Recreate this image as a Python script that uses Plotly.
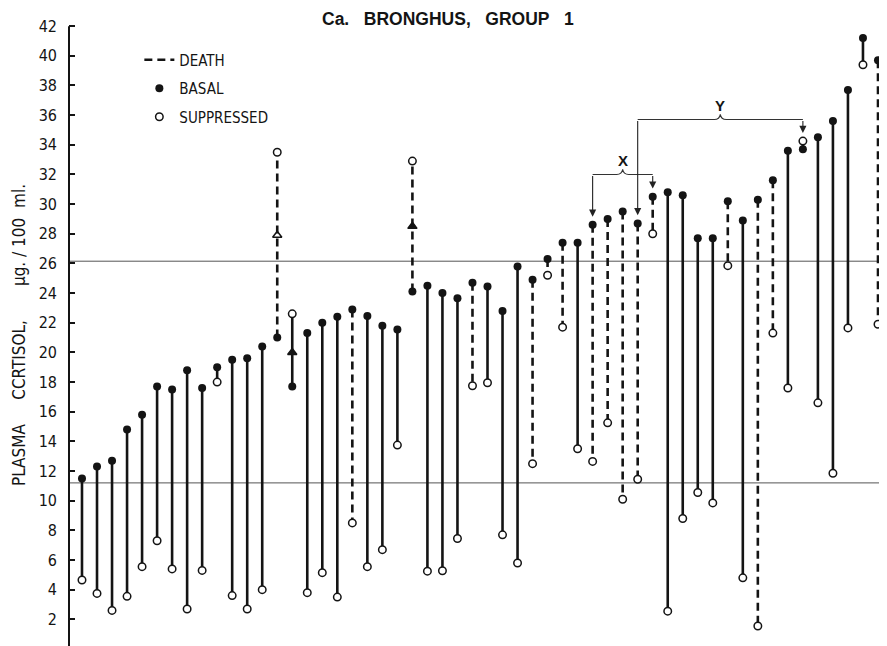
import plotly.graph_objects as go

# ---------------- data ----------------
patients = list(range(1, 55))
basal = [11.5, 12.3, 12.7, 14.8, 15.8, 17.7, 17.5, 18.8, 17.6, 19.0,
         19.5, 19.6, 20.4, 21.0, 17.7, 21.3, 22.0, 22.4, 22.9, 22.45,
         21.8, 21.55, 24.1, 24.5, 24.0, 23.65, 24.7, 24.45, 22.8, 25.8,
         24.9, 26.3, 27.4, 27.4, 28.6, 29.0, 29.5, 28.7, 30.5, 30.8,
         30.6, 27.7, 27.7, 30.2, 28.9, 30.3, 31.6, 33.6, 33.7, 34.5,
         35.6, 37.7, 41.2, 39.7]
suppressed = [4.65, 3.75, 2.6, 3.55, 5.55, 7.3, 5.4, 2.7, 5.3, 18.0,
              3.6, 2.7, 4.0, 33.5, 22.6, 3.8, 5.15, 3.5, 8.5, 5.55,
              6.7, 13.75, 32.9, 5.25, 5.28, 7.45, 17.75, 17.95, 7.7, 5.8,
              12.5, 25.2, 21.7, 13.5, 12.65, 15.25, 10.1, 11.45, 28.0, 2.55,
              8.8, 10.55, 9.85, 25.85, 4.8, 1.55, 21.3, 17.6, 34.25, 16.6,
              11.85, 21.65, 39.4, 21.9]
death_patients = [14, 19, 23, 27, 31, 32, 33, 35, 36, 37, 38, 39, 44, 46, 47, 49, 54]
rise_patients = [14, 15, 23]
rise_values = [27.9, 20.0, 28.5]
normal_range = [11.2, 26.15]
y_ticks = list(range(0, 43, 2))
x_group = [35, 39]     # patients bracketed by X
y_group = [38, 49]     # patients bracketed by Y
x_level, y_level = 32.0, 35.7

INK = "#141414"
FONT = "Liberation Sans Narrow, DejaVu Sans Condensed, Liberation Sans, Arial, sans-serif"
BOLD = "Liberation Sans, Arial, sans-serif"
NB = "\u00a0"

fig = go.Figure()

solid_x, solid_y, dash_x, dash_y = [], [], [], []
for p, b, s in zip(patients, basal, suppressed):
    if p in death_patients:
        dash_x += [p, p, None]
        dash_y += [b, s, None]
    else:
        solid_x += [p, p, None]
        solid_y += [b, s, None]

fig.add_trace(go.Scatter(x=solid_x, y=solid_y, mode="lines",
                         line=dict(color=INK, width=2.6), showlegend=False,
                         hoverinfo="skip"))
fig.add_trace(go.Scatter(x=dash_x, y=dash_y, mode="lines", name="DEATH",
                         legendgroup="d",
                         line=dict(color=INK, width=2.6, dash="8px,5px"),
                         hoverinfo="skip"))
fig.add_trace(go.Scatter(x=rise_patients, y=rise_values, mode="markers",
                         showlegend=False, hoverinfo="skip",
                         marker=dict(symbol=["triangle-up-open", "triangle-up", "triangle-up"],
                                     size=8, color=INK, line=dict(color=INK, width=1.5))))
fig.add_trace(go.Scatter(x=patients, y=basal, mode="markers", name="BASAL",
                         legendgroup="b",
                         marker=dict(symbol="circle", size=8, color=INK)))
fig.add_trace(go.Scatter(x=patients, y=suppressed, mode="markers", name="SUPPRESSED",
                         legendgroup="s",
                         marker=dict(symbol="circle", size=7.5, color="white",
                                     line=dict(color=INK, width=1.5))))

shapes = []
# normal-range lines
for v in normal_range:
    shapes.append(dict(type="line", xref="paper", x0=0, x1=1, yref="y", y0=v, y1=v,
                       line=dict(color="#555555", width=1), layer="below"))
# y axis line
shapes.append(dict(type="line", xref="paper", x0=0, x1=0, yref="y", y0=0, y1=max(y_ticks),
                   line=dict(color=INK, width=2)))


def top_of(p):
    i = patients.index(p)
    return max(basal[i], suppressed[i])


anns = []


def bracket(p0, p1, level, label):
    xc = (p0 + p1) / 2
    path = (f"M {p0},{level} L {xc-0.4},{level} Q {xc-0.05},{level} {xc},{level+0.35} "
            f"Q {xc+0.05},{level} {xc+0.4},{level} L {p1},{level}")
    shapes.append(dict(type="path", xref="x", yref="y", path=path,
                       line=dict(color="#333333", width=1.1)))
    anns.append(dict(x=xc, y=level + 0.95, xref="x", yref="y", text=f"<b>{label}</b>",
                     showarrow=False, xanchor="center", yanchor="middle",
                     font=dict(family=BOLD, size=15, color=INK)))


def down_arrow(p, level):
    anns.append(dict(x=p, y=top_of(p) + 0.55, ax=p, ay=level, xref="x", yref="y",
                     axref="x", ayref="y", text="", showarrow=True, arrowhead=2,
                     arrowsize=1.3, arrowwidth=1.1, arrowcolor="#222222", standoff=0))


bracket(x_group[0], x_group[1], x_level, "X")
bracket(y_group[0], y_group[1], y_level, "Y")
down_arrow(x_group[0], x_level)
down_arrow(x_group[1], x_level)
down_arrow(y_group[0], y_level)
down_arrow(y_group[1], y_level)

H = 641  # figure height (extends 3px below the window so that 0 sits at the edge)
ytitle = ("PLASMA" + NB * 5 + "CCRTISOL," + NB * 7 + "μg." + NB + "/" + NB + "100" + NB * 2 + "ml.")
anns.append(dict(xref="paper", yref="paper", x=-0.0611, y=1 - 327 / H,
                 xanchor="center", yanchor="middle",
                 text=ytitle, textangle=-90, showarrow=False,
                 font=dict(family=FONT, size=17, color=INK)))
anns.append(dict(xref="paper", yref="paper", x=0.4633, y=1 - 11 / H,
                 xanchor="center", yanchor="middle",
                 text="<b>Ca." + NB * 3 + "BRONGHUS," + NB * 3 + "GROUP" + NB * 3 + "1</b>",
                 showarrow=False,
                 font=dict(family=BOLD, size=17.5, color=INK)))

# page body has an 8px margin: figure is laid out 8px in from the top-left
fig.update_layout(
    width=879, height=H,
    margin=dict(l=61, r=0, t=0, b=0),
    paper_bgcolor="white", plot_bgcolor="white",
    template="none",
    shapes=shapes, annotations=anns,
    showlegend=True,
    legend=dict(x=0.086, y=1 - 35.5 / H, xanchor="left", yanchor="top",
                bgcolor="rgba(0,0,0,0)", borderwidth=0, tracegroupgap=6,
                font=dict(family=FONT, size=15, color=INK)),
    xaxis=dict(range=[0.135, 54.6], visible=False, automargin=False),
    yaxis=dict(range=[0, H / 14.83], tickvals=y_ticks, ticks="inside", ticklen=6,
               tickwidth=1.5, tickcolor=INK, showgrid=False, zeroline=False,
               showline=False, automargin=False, ticklabelstandoff=11,
               tickfont=dict(family=FONT, size=16, color=INK)),
)

fig.write_html("out.html")
